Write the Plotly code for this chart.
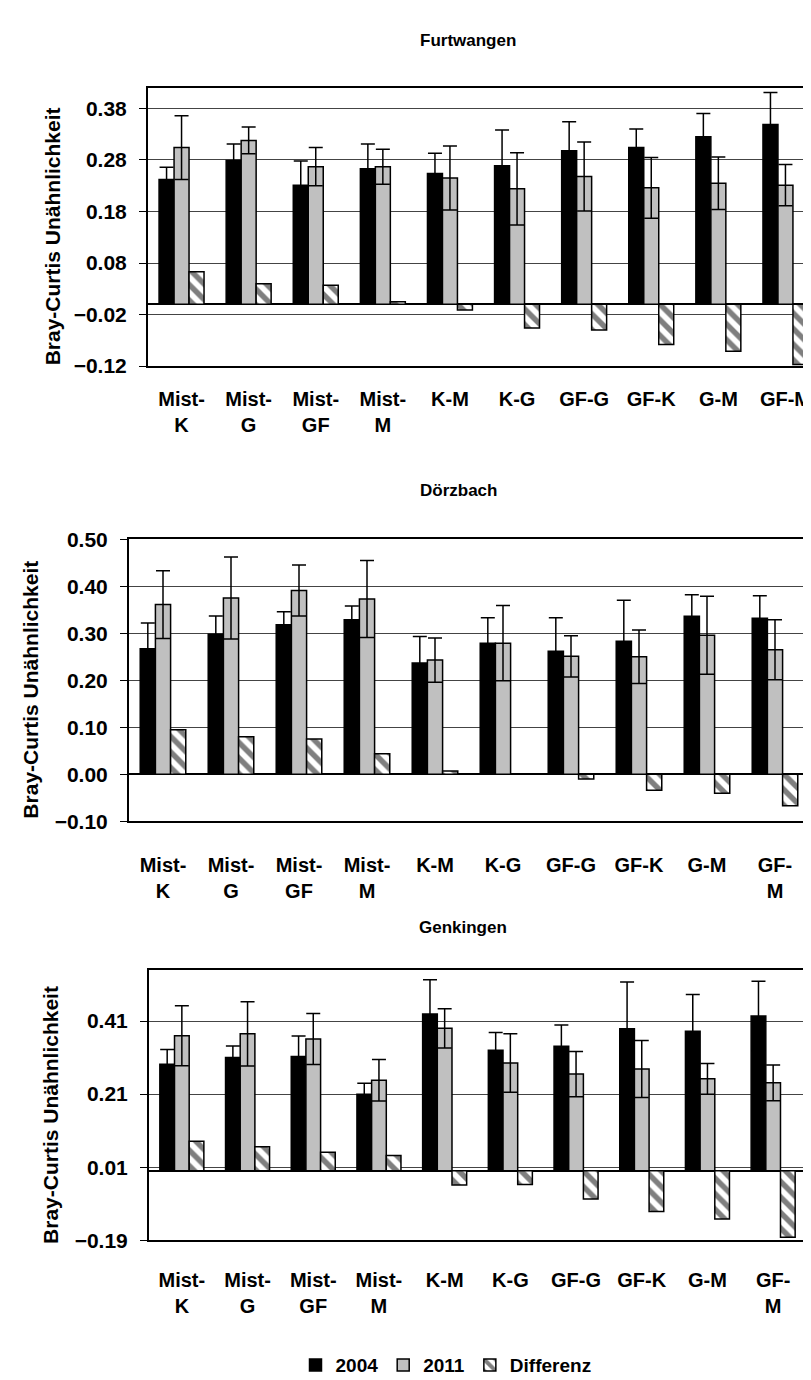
import plotly.graph_objects as go

# ---------------- data ----------------
cats_furtwangen = ["Mist-<br>K", "Mist-<br>G", "Mist-<br>GF", "Mist-<br>M", "K-M", "K-G",
                   "GF-G", "GF-K", "G-M", "GF-M"]
cats_other = ["Mist-<br>K", "Mist-<br>G", "Mist-<br>GF", "Mist-<br>M", "K-M", "K-G",
              "GF-G", "GF-K", "G-M", "GF-<br>M"]

panel_titles = ["Furtwangen", "Dörzbach", "Genkingen"]
series_names = ["2004", "2011", "Differenz"]
y_title = "Bray-Curtis Unähnlichkeit"

# Furtwangen
f_2004 = [0.242, 0.279, 0.231, 0.263, 0.254, 0.269, 0.298, 0.304, 0.325, 0.349]
f_2004_err = [0.024, 0.032, 0.047, 0.048, 0.039, 0.069, 0.056, 0.036, 0.045, 0.062]
f_2011 = [0.304, 0.318, 0.267, 0.267, 0.245, 0.224, 0.248, 0.226, 0.235, 0.231]
f_2011_err = [0.062, 0.026, 0.037, 0.034, 0.062, 0.070, 0.067, 0.059, 0.051, 0.040]
f_diff = [0.063, 0.040, 0.037, 0.005, -0.011, -0.046, -0.050, -0.078, -0.091, -0.117]

# Dörzbach
d_2004 = [0.267, 0.298, 0.318, 0.329, 0.237, 0.279, 0.262, 0.283, 0.336, 0.332]
d_2004_err = [0.055, 0.039, 0.028, 0.029, 0.056, 0.054, 0.071, 0.087, 0.046, 0.048]
d_2011 = [0.361, 0.375, 0.391, 0.373, 0.243, 0.279, 0.251, 0.250, 0.296, 0.265]
d_2011_err = [0.072, 0.087, 0.054, 0.082, 0.047, 0.080, 0.044, 0.057, 0.083, 0.064]
d_diff = [0.095, 0.080, 0.075, 0.044, 0.007, 0.0, -0.010, -0.034, -0.040, -0.067]

# Genkingen
g_2004 = [0.292, 0.310, 0.313, 0.210, 0.429, 0.330, 0.341, 0.389, 0.382, 0.424]
g_2004_err = [0.040, 0.032, 0.056, 0.030, 0.094, 0.049, 0.058, 0.128, 0.101, 0.095]
g_2011 = [0.370, 0.375, 0.361, 0.248, 0.390, 0.295, 0.265, 0.279, 0.252, 0.241]
g_2011_err = [0.082, 0.088, 0.070, 0.057, 0.054, 0.080, 0.062, 0.078, 0.042, 0.049]
g_diff = [0.081, 0.066, 0.051, 0.042, -0.039, -0.037, -0.077, -0.111, -0.132, -0.182]

# ---------------- layout constants ----------------
W, H = 811, 1380
FONT = "Liberation Sans, Arial, sans-serif"

panels = [
    dict(cats=cats_furtwangen, v04=f_2004, e04=f_2004_err, v11=f_2011, e11=f_2011_err, dif=f_diff,
         left=140, right=811, top=69, bottom=352, yrange=[-0.1201, 0.42], tick0=-0.12, dtick=0.1,
         xstand=14, mirror_y=False, title_xy=(460, 21), ytitle_x=44.5),
    dict(cats=cats_other, v04=d_2004, e04=d_2004_err, v11=d_2011, e11=d_2011_err, dif=d_diff,
         left=121, right=801, top=528, bottom=815, yrange=[-0.1001, 0.5001], tick0=-0.1, dtick=0.1,
         xstand=25, mirror_y=True, title_xy=(450, 478), ytitle_x=22.5),
    dict(cats=cats_other, v04=g_2004, e04=g_2004_err, v11=g_2011, e11=g_2011_err, dif=g_diff,
         left=141, right=798, top=966, bottom=1241, yrange=[-0.1901, 0.55], tick0=-0.19, dtick=0.2,
         xstand=21, mirror_y=True, title_xy=(455, 923), ytitle_x=43),
]

fig = go.Figure()
layout_axes = {}
annotations = []

for i, p in enumerate(panels):
    n = "" if i == 0 else str(i + 1)
    xa, ya = "x" + n, "y" + n
    show = i == 0
    err_style = dict(type="data", symmetric=True, color="black", thickness=1.5, width=7, visible=True)
    fig.add_trace(go.Bar(
        x=p["cats"], y=p["v04"], name=series_names[0], legendgroup="a", showlegend=show,
        marker=dict(color="black", line=dict(color="black", width=1.5)),
        error_y=dict(array=p["e04"], **err_style), xaxis=xa, yaxis=ya))
    fig.add_trace(go.Bar(
        x=p["cats"], y=p["v11"], name=series_names[1], legendgroup="b", showlegend=show,
        marker=dict(color="#C0C0C0", line=dict(color="black", width=1.5)),
        error_y=dict(array=p["e11"], **err_style), xaxis=xa, yaxis=ya))
    fig.add_trace(go.Bar(
        x=p["cats"], y=p["dif"], name=series_names[2], legendgroup="c", showlegend=show,
        marker=dict(color="white", line=dict(color="black", width=1.5),
                    pattern=dict(shape="\\", fgcolor="black", bgcolor="white", size=11, solidity=0.5)),
        xaxis=xa, yaxis=ya))

    xdom = [p["left"] / W, min(p["right"] / W, 1.0)]
    ydom = [1 - p["bottom"] / H, 1 - p["top"] / H]
    layout_axes["xaxis" + n] = dict(
        domain=xdom, anchor=ya, type="category", range=[-0.5, 9.5],
        showline=True, linecolor="black", linewidth=2, mirror=True,
        ticks="", showgrid=False, ticklabelstandoff=p["xstand"],
        tickfont=dict(family=FONT, size=20, color="black", weight="bold"),
        fixedrange=True)
    layout_axes["yaxis" + n] = dict(
        domain=ydom, anchor=xa, range=p["yrange"], tick0=p["tick0"], dtick=p["dtick"],
        tickmode="linear", tickformat=".2f",
        showline=True, linecolor="black", linewidth=2, mirror=p["mirror_y"],
        ticks="outside", ticklen=7, tickcolor="black", tickwidth=1,
        ticklabelstandoff=8,
        showgrid=True, gridcolor="#444444", gridwidth=1,
        zeroline=True, zerolinecolor="black", zerolinewidth=1.5,
        tickfont=dict(family=FONT, size=21, color="black", weight="bold"),
        fixedrange=True)

    tx, ty = p["title_xy"]
    annotations.append(dict(
        text=panel_titles[i], x=tx / W, y=1 - ty / H, xref="paper", yref="paper",
        xanchor="center", yanchor="middle", showarrow=False,
        font=dict(family=FONT, size=17, color="black", weight="bold")))
    annotations.append(dict(
        text=y_title, x=p["ytitle_x"] / W, y=1 - ((p["top"] + p["bottom"]) / 2 + 10) / H,
        xref="paper", yref="paper", xanchor="center", yanchor="middle", textangle=-90,
        showarrow=False, font=dict(family=FONT, size=21, color="black", weight="bold")))

fig.update_layout(
    width=W, height=H, margin=dict(l=0, r=0, t=0, b=0),
    paper_bgcolor="white", plot_bgcolor="white",
    barmode="group", bargap=0.33, bargroupgap=0,
    font=dict(family=FONT, color="black"),
    legend=dict(orientation="h", x=438 / W, xanchor="center", y=1 - 1368 / H, yanchor="middle",
                font=dict(family=FONT, size=19, color="black", weight="bold"),
                itemwidth=30, tracegroupgap=0, bgcolor="rgba(0,0,0,0)"),
    annotations=annotations,
    **layout_axes,
)

fig.write_html("out.html")
